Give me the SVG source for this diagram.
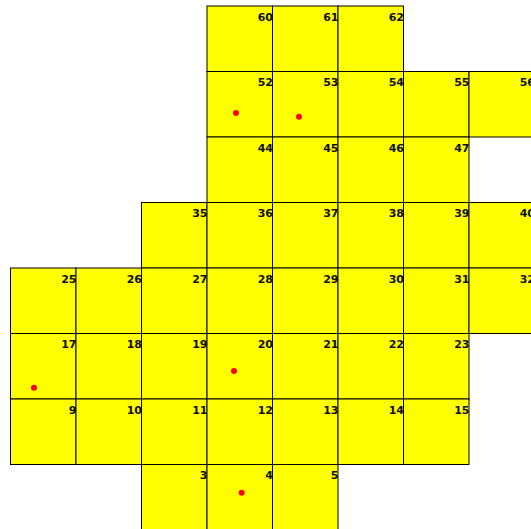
<svg xmlns="http://www.w3.org/2000/svg" width="531" height="529" viewBox="0 0 531 529">
<style>
.c rect{fill:#ffff00;stroke:#000;stroke-width:1}
.c text{font-family:"DejaVu Sans",Verdana,sans-serif;font-weight:bold;font-size:11px;fill:#111;text-anchor:end}
.d{fill:#ff0000}
</style>
<rect width="531" height="529" fill="#fff"/>
<g id="c60" class="c"><rect x="207" y="6" width="65.5" height="65.5"/><text x="273" y="20.5">60</text></g>
<g id="c61" class="c"><rect x="272.5" y="6" width="65.5" height="65.5"/><text x="338.5" y="20.5">61</text></g>
<g id="c62" class="c"><rect x="338" y="6" width="65.5" height="65.5"/><text x="404" y="20.5">62</text></g>
<g id="c52" class="c"><rect x="207" y="71.5" width="65.5" height="65.5"/><text x="273" y="86">52</text></g>
<g id="c53" class="c"><rect x="272.5" y="71.5" width="65.5" height="65.5"/><text x="338.5" y="86">53</text></g>
<g id="c54" class="c"><rect x="338" y="71.5" width="65.5" height="65.5"/><text x="404" y="86">54</text></g>
<g id="c55" class="c"><rect x="403.5" y="71.5" width="65.5" height="65.5"/><text x="469.5" y="86">55</text></g>
<g id="c56" class="c"><rect x="469" y="71.5" width="65.5" height="65.5"/><text x="535" y="86">56</text></g>
<g id="c44" class="c"><rect x="207" y="137" width="65.5" height="65.5"/><text x="273" y="151.5">44</text></g>
<g id="c45" class="c"><rect x="272.5" y="137" width="65.5" height="65.5"/><text x="338.5" y="151.5">45</text></g>
<g id="c46" class="c"><rect x="338" y="137" width="65.5" height="65.5"/><text x="404" y="151.5">46</text></g>
<g id="c47" class="c"><rect x="403.5" y="137" width="65.5" height="65.5"/><text x="469.5" y="151.5">47</text></g>
<g id="c35" class="c"><rect x="141.5" y="202.5" width="65.5" height="65.5"/><text x="207.5" y="217">35</text></g>
<g id="c36" class="c"><rect x="207" y="202.5" width="65.5" height="65.5"/><text x="273" y="217">36</text></g>
<g id="c37" class="c"><rect x="272.5" y="202.5" width="65.5" height="65.5"/><text x="338.5" y="217">37</text></g>
<g id="c38" class="c"><rect x="338" y="202.5" width="65.5" height="65.5"/><text x="404" y="217">38</text></g>
<g id="c39" class="c"><rect x="403.5" y="202.5" width="65.5" height="65.5"/><text x="469.5" y="217">39</text></g>
<g id="c40" class="c"><rect x="469" y="202.5" width="65.5" height="65.5"/><text x="535" y="217">40</text></g>
<g id="c25" class="c"><rect x="10.5" y="268" width="65.5" height="65.5"/><text x="76.5" y="282.5">25</text></g>
<g id="c26" class="c"><rect x="76" y="268" width="65.5" height="65.5"/><text x="142" y="282.5">26</text></g>
<g id="c27" class="c"><rect x="141.5" y="268" width="65.5" height="65.5"/><text x="207.5" y="282.5">27</text></g>
<g id="c28" class="c"><rect x="207" y="268" width="65.5" height="65.5"/><text x="273" y="282.5">28</text></g>
<g id="c29" class="c"><rect x="272.5" y="268" width="65.5" height="65.5"/><text x="338.5" y="282.5">29</text></g>
<g id="c30" class="c"><rect x="338" y="268" width="65.5" height="65.5"/><text x="404" y="282.5">30</text></g>
<g id="c31" class="c"><rect x="403.5" y="268" width="65.5" height="65.5"/><text x="469.5" y="282.5">31</text></g>
<g id="c32" class="c"><rect x="469" y="268" width="65.5" height="65.5"/><text x="535" y="282.5">32</text></g>
<g id="c17" class="c"><rect x="10.5" y="333.5" width="65.5" height="65.5"/><text x="76.5" y="348">17</text></g>
<g id="c18" class="c"><rect x="76" y="333.5" width="65.5" height="65.5"/><text x="142" y="348">18</text></g>
<g id="c19" class="c"><rect x="141.5" y="333.5" width="65.5" height="65.5"/><text x="207.5" y="348">19</text></g>
<g id="c20" class="c"><rect x="207" y="333.5" width="65.5" height="65.5"/><text x="273" y="348">20</text></g>
<g id="c21" class="c"><rect x="272.5" y="333.5" width="65.5" height="65.5"/><text x="338.5" y="348">21</text></g>
<g id="c22" class="c"><rect x="338" y="333.5" width="65.5" height="65.5"/><text x="404" y="348">22</text></g>
<g id="c23" class="c"><rect x="403.5" y="333.5" width="65.5" height="65.5"/><text x="469.5" y="348">23</text></g>
<g id="c9" class="c"><rect x="10.5" y="399" width="65.5" height="65.5"/><text x="76.5" y="413.5">9</text></g>
<g id="c10" class="c"><rect x="76" y="399" width="65.5" height="65.5"/><text x="142" y="413.5">10</text></g>
<g id="c11" class="c"><rect x="141.5" y="399" width="65.5" height="65.5"/><text x="207.5" y="413.5">11</text></g>
<g id="c12" class="c"><rect x="207" y="399" width="65.5" height="65.5"/><text x="273" y="413.5">12</text></g>
<g id="c13" class="c"><rect x="272.5" y="399" width="65.5" height="65.5"/><text x="338.5" y="413.5">13</text></g>
<g id="c14" class="c"><rect x="338" y="399" width="65.5" height="65.5"/><text x="404" y="413.5">14</text></g>
<g id="c15" class="c"><rect x="403.5" y="399" width="65.5" height="65.5"/><text x="469.5" y="413.5">15</text></g>
<g id="c3" class="c"><rect x="141.5" y="464.5" width="65.5" height="65.5"/><text x="207.5" y="479">3</text></g>
<g id="c4" class="c"><rect x="207" y="464.5" width="65.5" height="65.5"/><text x="273" y="479">4</text></g>
<g id="c5" class="c"><rect x="272.5" y="464.5" width="65.5" height="65.5"/><text x="338.5" y="479">5</text></g>
<g id="dots">
<circle class="d" cx="236" cy="113" r="3"/>
<circle class="d" cx="299" cy="116.7" r="3"/>
<circle class="d" cx="234" cy="371" r="3"/>
<circle class="d" cx="34" cy="387.7" r="3"/>
<circle class="d" cx="241.7" cy="492.7" r="3"/>
</g>
</svg>
